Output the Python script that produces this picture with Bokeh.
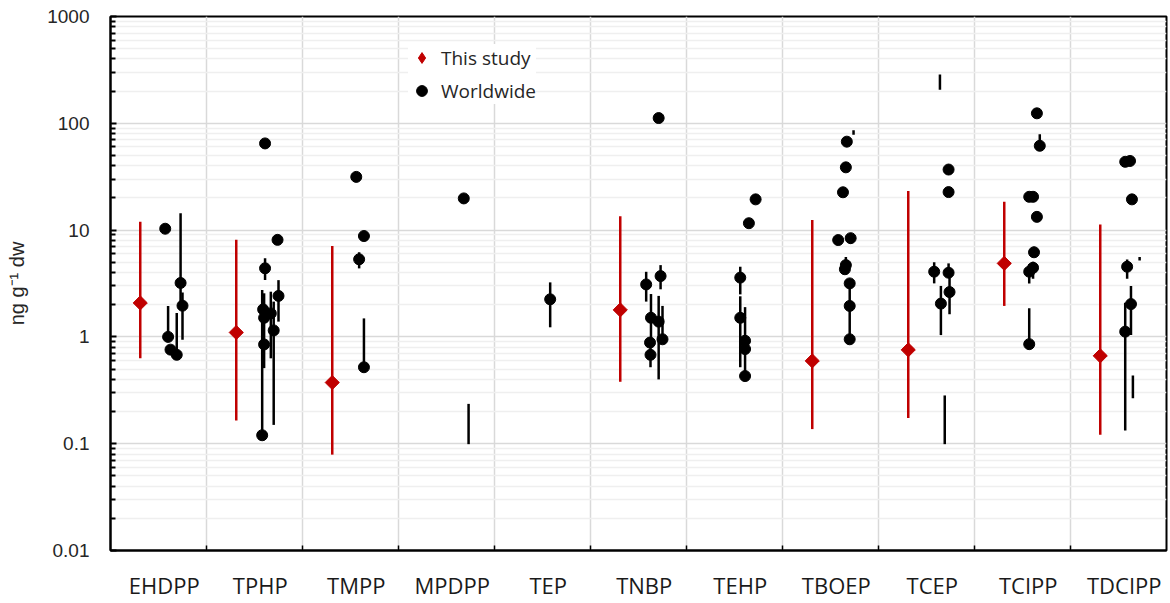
import math
from bokeh.plotting import figure
from bokeh.models import (FixedTicker, Legend, LegendItem, CustomJSTickFormatter,
                          ColumnDataSource, Range1d)
from bokeh.embed import file_html
from bokeh.resources import INLINE

nan = float("nan")

categories = ["EHDPP", "TPHP", "TMPP", "MPDPP", "TEP", "TNBP",
              "TEHP", "TBOEP", "TCEP", "TCIPP", "TDCIPP"]

# "This study" (median with range), ng/g dw
study_value = [2.08, 1.10, 0.374, nan, nan, 1.79, nan, 0.596, 0.756, 4.88, 0.665]
study_low = [0.63, 0.165, 0.079, nan, nan, 0.38, nan, 0.137, 0.174, 1.95, 0.121]
study_high = [12.0, 8.1, 7.1, nan, nan, 13.5, nan, 12.4, 23.2, 18.4, 11.3]
study_offset = 0.31  # dodge within category

# "Worldwide" studies: category index, dodge within category, value, low, high
world_cat = [0, 0, 0, 0, 0, 0,
             1, 1, 1, 1, 1, 1, 1, 1, 1, 1,
             2, 2, 2, 2,
             3, 3,
             4,
             5, 5, 5, 5, 5, 5, 5, 5,
             6, 6, 6, 6, 6, 6, 6,
             7, 7, 7, 7, 7, 7, 7, 7, 7, 7, 7,
             8, 8, 8, 8, 8, 8, 8, 8,
             9, 9, 9, 9, 9, 9, 9, 9, 9,
             10, 10, 10, 10, 10, 10, 10, 10]
world_offset = [0.57, 0.60, 0.625, 0.69, 0.73, 0.75,
                0.61, 0.74, 0.61, 0.58, 0.59, 0.60, 0.60, 0.67, 0.70, 0.75,
                0.56, 0.64, 0.59, 0.64,
                0.68, 0.73,
                0.58,
                0.71, 0.58, 0.73, 0.63, 0.71, 0.75, 0.62, 0.625,
                0.72, 0.65, 0.56, 0.56, 0.61, 0.61, 0.61,
                0.67, 0.74, 0.66, 0.63, 0.58, 0.71, 0.66, 0.65, 0.70, 0.70, 0.70,
                0.64, 0.73, 0.73, 0.58, 0.73, 0.74, 0.65, 0.69,
                0.65, 0.68, 0.57, 0.61, 0.65, 0.62, 0.61, 0.57, 0.57,
                0.57, 0.62, 0.64, 0.59, 0.72, 0.63, 0.57, 0.65]
world_value = [10.3, 1.0, 0.76, 0.68, 3.2, 1.96,
               64.8, 8.1, 4.39, 0.12, 1.81, 0.85, 1.51, 1.66, 1.15, 2.42,
               31.5, 8.8, 5.33, 0.52,
               19.8, nan,
               2.25,
               112.0, 3.1, 3.71, 1.51, 1.39, 0.95, 0.885, 0.68,
               19.4, 11.6, 3.59, 1.51, 0.92, 0.77, 0.43,
               67.3, nan, 38.7, 22.6, 8.07, 8.4, 4.7, 4.3, 3.17, 1.95, 0.95,
               nan, 36.9, 22.7, 4.08, 3.99, 2.63, 2.05, nan,
               124.0, 61.6, 20.5, 20.5, 13.3, 6.2, 4.44, 4.08, 0.855,
               43.6, 44.4, 19.4, 4.54, nan, 2.03, 1.12, nan]
world_low = [10.3, 1.0, 0.76, 0.68, 2.0, 0.94,
             64.8, 8.1, 3.41, 0.12, 1.81, 0.51, 1.51, 0.63, 0.15, 1.39,
             31.5, 8.8, 4.38, 0.52,
             19.8, 0.099,
             1.23,
             112.0, 2.14, 2.79, 0.9, 0.40, 0.95, 0.885, 0.52,
             19.4, 11.6, 2.5, 0.52, 0.92, 0.77, 0.43,
             67.3, 78.0, 38.7, 22.6, 7.6, 7.5, 4.3, 4.3, 0.95, 1.95, 0.95,
             206.0, 36.9, 22.7, 3.17, 3.99, 1.63, 1.04, 0.099,
             124.0, 61.6, 20.5, 20.5, 13.3, 5.6, 3.5, 3.17, 0.855,
             43.6, 44.4, 19.4, 3.5, 5.2, 1.04, 0.133, 0.267]
world_high = [10.3, 1.95, 0.76, 1.67, 14.4, 2.6,
              64.8, 8.1, 5.45, 2.75, 1.81, 2.56, 1.51, 2.65, 2.14, 3.4,
              31.5, 8.8, 6.2, 1.49,
              19.8, 0.236,
              3.24,
              112.0, 4.07, 4.7, 2.52, 2.42, 1.95, 0.885, 0.9,
              19.4, 11.6, 4.54, 2.4, 1.9, 0.77, 0.92,
              67.3, 86.0, 38.7, 22.6, 8.07, 8.4, 5.6, 4.3, 3.17, 1.95, 0.95,
              287.0, 36.9, 22.7, 5.0, 4.88, 3.99, 3.0, 0.283,
              124.0, 79.0, 20.5, 20.5, 13.3, 7.0, 5.06, 4.8, 1.85,
              43.6, 44.4, 19.4, 5.3, 5.6, 3.0, 2.09, 0.435]

y_ticks = [0.01, 0.1, 1, 10, 100, 1000]

RED = "#c00000"
GRID = "#d9d9d9"
MINOR_GRID = "#efefef"

study_x = [i + study_offset for i in range(len(categories))]
study_src = ColumnDataSource(dict(x=study_x, y=study_value, lo=study_low, hi=study_high))
world_x = [c + o for c, o in zip(world_cat, world_offset)]
world_src = ColumnDataSource(dict(x=world_x, y=world_value, lo=world_low, hi=world_high))

p = figure(width=1168, height=602, x_range=Range1d(0, len(categories)),
           y_range=Range1d(y_ticks[0], y_ticks[-1]), y_axis_type="log",
           output_backend="svg", toolbar_location=None,
           min_border_left=110, min_border_right=2, min_border_top=16, min_border_bottom=51)

p.background_fill_color = "white"
p.border_fill_color = "white"
p.outline_line_color = "black"
p.outline_line_width = 2

# x axis: labels at category centres, ticks at category boundaries
centres = [i + 0.56 for i in range(len(categories))]
bounds = list(range(1, len(categories)))
p.xaxis.ticker = FixedTicker(ticks=centres, minor_ticks=bounds)
p.xaxis.major_label_overrides = {c: name for c, name in zip(centres, categories)}
p.xaxis.major_tick_in = 0
p.xaxis.major_tick_out = 0
p.xaxis.minor_tick_in = 5
p.xaxis.minor_tick_out = 0
p.xaxis.minor_tick_line_color = "black"
p.xaxis.minor_tick_line_width = 1.5
p.xaxis.axis_line_color = "black"
p.xaxis.axis_line_width = 2
p.xaxis.major_label_standoff = 19
p.xaxis.major_label_text_font = "Open Sans"
p.xaxis.major_label_text_font_size = "22px"
p.xaxis.major_label_text_color = "#1a1a1a"

p.xgrid.ticker = FixedTicker(ticks=bounds)
p.xgrid.grid_line_color = GRID
p.xgrid.grid_line_width = 1.5

# y axis
minor = [m * 10.0 ** e for e in range(-2, 3) for m in range(2, 10)]
p.yaxis.ticker = FixedTicker(ticks=y_ticks, minor_ticks=minor)
p.yaxis.formatter = CustomJSTickFormatter(code="return String(Number(tick.toPrecision(6)))")
p.yaxis.major_tick_in = 6
p.yaxis.major_tick_out = 0
p.yaxis.minor_tick_in = 5
p.yaxis.minor_tick_out = 0
p.yaxis.major_tick_line_color = "black"
p.yaxis.minor_tick_line_color = "black"
p.yaxis.major_tick_line_width = 2
p.yaxis.minor_tick_line_width = 2
p.yaxis.axis_line_color = "black"
p.yaxis.axis_line_width = 2
p.yaxis.major_label_standoff = 21
p.yaxis.major_label_text_font = "Liberation Sans"
p.yaxis.major_label_text_font_size = "19px"
p.yaxis.major_label_text_color = "#262626"
p.yaxis.axis_label = "ng g\u207b\u00b9 dw"
p.yaxis.axis_label_text_font = "Liberation Sans"
p.yaxis.axis_label_text_font_size = "20px"
p.yaxis.axis_label_text_font_style = "normal"
p.yaxis.axis_label_text_color = "#262626"
p.yaxis.axis_label_standoff = 16

p.ygrid.grid_line_color = GRID
p.ygrid.grid_line_width = 1.5
p.ygrid.minor_grid_line_color = MINOR_GRID
p.ygrid.minor_grid_line_width = 1.5

# This study
p.segment(x0="x", y0="lo", x1="x", y1="hi", source=study_src, line_color=RED, line_width=2.5)
p.scatter(x="x", y="y", source=study_src, marker="square", angle=math.pi / 4,
          size=10, fill_color=RED, line_color=RED)

# Worldwide
p.segment(x0="x", y0="lo", x1="x", y1="hi", source=world_src, line_color="black", line_width=2.5)
r_world = p.scatter(x="x", y="y", source=world_src, marker="circle", size=11,
                    fill_color="black", line_color="black")

# legend-only glyph for the red diamond
r_leg = p.scatter(x=[nan], y=[nan], marker="diamond", size=10, fill_color=RED, line_color=RED)

legend = Legend(items=[LegendItem(label="This study", renderers=[r_leg]),
                       LegendItem(label="Worldwide", renderers=[r_world])],
                location=(298, 446), glyph_width=27, glyph_height=27,
                label_standoff=6, spacing=6, padding=3, margin=0,
                label_text_font="Open Sans", label_text_font_size="19px",
                label_text_color="#262626",
                border_line_color=None, background_fill_color="white",
                background_fill_alpha=1.0)
p.add_layout(legend)

open("out.html", "w").write(file_html(p, INLINE))
